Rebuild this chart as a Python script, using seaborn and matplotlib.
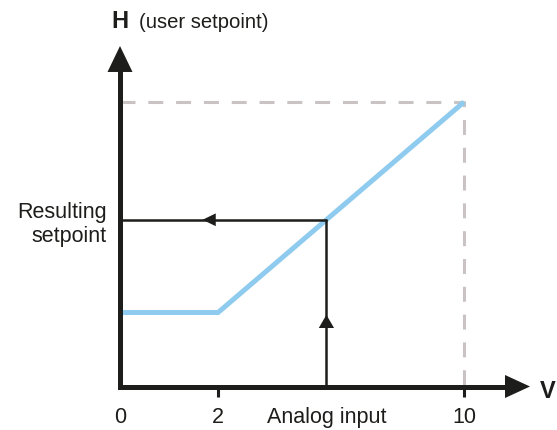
import matplotlib
matplotlib.use("Agg")
import matplotlib.pyplot as plt
import numpy as np
import seaborn as sns

# schematic axis: tick positions are not to scale
x_labels = ["0", "2", "10"]
x_positions = [0, 2.85, 10]
curve_x = [0, 2.85, 10]
curve_y = [26, 26, 100]
analog_input = 6.0
h_max = 100

DARK = "#1d1d1b"
BLUE = "#8fcbee"
GREY = "#c9c3c3"

sns.set_style("white")
plt.rcParams["font.family"] = ["Liberation Sans", "DejaVu Sans"]

resulting = float(np.interp(analog_input, curve_x, curve_y))

fig = plt.figure(figsize=(5.57, 4.31), dpi=100)
ax = fig.add_axes([0, 0, 1, 1])
ax.patch.set_alpha(0)

# pixel layout: origin at (120, 387.5), 34.4 px per x unit, 2.845 px per y unit
ox, oy, sx, sy = 120.0, 387.5, 34.4, 2.845
ax.set_xlim(-ox / sx, (557 - ox) / sx)
ax.set_ylim((oy - 431) / sy, oy / sy)

def px_x(p):
    return (p - ox) / sx

def px_y(p):
    return (oy - p) / sy

# max guides
ax.plot([0, curve_x[-1], curve_x[-1]], [h_max, h_max, 0], color=GREY, lw=2.2,
        linestyle=(0, (4.9, 4.2)), zorder=1)

# characteristic curve
sns.lineplot(x=curve_x, y=curve_y, color=BLUE, lw=3.6, ax=ax, zorder=2,
             solid_capstyle="butt")

# lookup lines
ax.plot([analog_input, analog_input], [0, resulting], color=DARK, lw=1.8, zorder=3)
ax.plot([0, analog_input], [resulting, resulting], color=DARK, lw=1.8, zorder=3)


def head(tip, tail, length, half):
    ax.annotate("", xy=tip, xytext=tail,
                arrowprops=dict(arrowstyle=f"-|>,head_length={length},head_width={half}",
                                mutation_scale=1, lw=0, color=DARK,
                                shrinkA=0, shrinkB=0), zorder=4)


hx = 0.4 * analog_input
head((hx, resulting), (hx + 1, resulting), 9.5, 4.6)
vy = 0.43 * resulting
head((analog_input, vy), (analog_input, vy - 10), 9.5, 5.5)

# axes as spines with arrow heads
x_tip, y_tip = px_x(530), px_y(47)
for side in ["top", "right"]:
    ax.spines[side].set_visible(False)
for side in ["left", "bottom"]:
    ax.spines[side].set_position(("data", 0))
    ax.spines[side].set_linewidth(3.6)
    ax.spines[side].set_color(DARK)
    ax.spines[side].set_capstyle("projecting")
    ax.spines[side].set_zorder(3)
ax.spines["bottom"].set_bounds(0, x_tip - 0.5)
ax.spines["left"].set_bounds(0, y_tip - 5)
head((x_tip, 0), (0, 0), 18.0, 8.3)
head((0, y_tip), (0, 0), 18.7, 9.0)

ticks = sorted(x_positions + [analog_input])
labels = [x_labels[x_positions.index(t)] if t in x_positions else "Analog input" for t in ticks]
ax.set_xticks(ticks, labels=labels)
ax.tick_params(axis="x", direction="out", length=7.2, width=2.2, color=DARK,
               pad=7.0, labelsize=15.5, labelcolor=DARK, bottom=True)
for i, t in enumerate(ticks):
    if t in (0, analog_input):
        ax.xaxis.get_major_ticks()[i].tick1line.set_visible(False)

ax.set_yticks([resulting], labels=["Resulting\nsetpoint"])
ax.tick_params(axis="y", length=0, pad=9.4, labelsize=15.5, labelcolor=DARK, left=True)

ax.text(0, px_y(28), "H", ha="center", va="baseline", fontsize=17,
        fontweight="bold", color=DARK)
ax.text(px_x(139), px_y(28), "(user setpoint)", ha="left", va="baseline",
        fontsize=14.6, color=DARK)
ax.text(px_x(540), px_y(398), "V", ha="left", va="baseline", fontsize=17,
        fontweight="bold", color=DARK)

fig.savefig("out.png", dpi=100)
